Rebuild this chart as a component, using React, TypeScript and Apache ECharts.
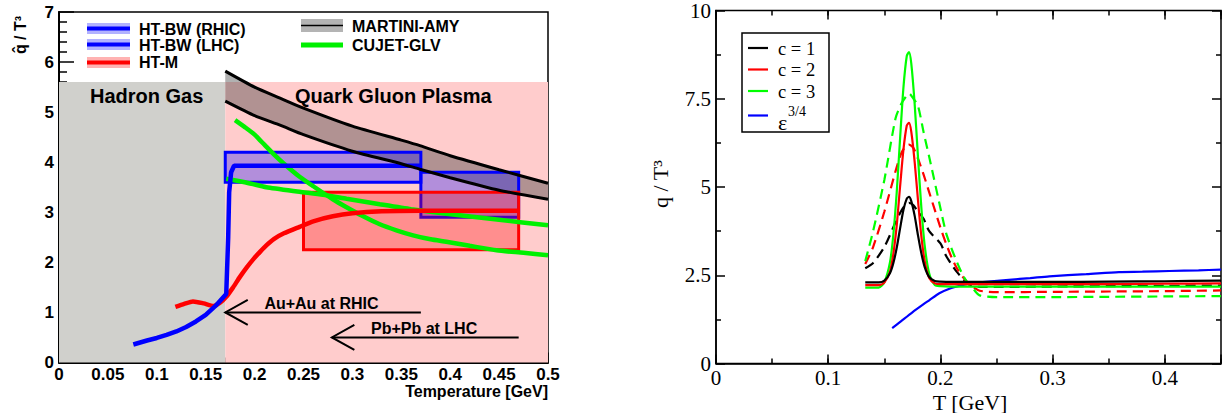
import { useEffect, useRef } from "react";
import * as echarts from "echarts";

// ---------- left panel: q̂/T³ vs temperature ----------
const phaseNames = ["Hadron Gas", "Quark Gluon Plasma"];
const phaseTMin = [0, 0.17];
const phaseTMax = [0.17, 0.5];
const phaseQMax = 5.6;

// extraction boxes: HT-BW (RHIC), HT-BW (LHC), HT-M
const boxTMin = [0.17, 0.37, 0.25];
const boxTMax = [0.37, 0.47, 0.47];
const boxQMin = [3.6, 2.9, 2.25];
const boxQMax = [4.2, 3.8, 3.4];

// MARTINI-AMY band
const martiniT = [0.17, 0.2, 0.226, 0.25, 0.3, 0.35, 0.369, 0.4, 0.45, 0.5];
const martiniUpper = [5.82, 5.5, 5.28, 5.08, 4.72, 4.44, 4.33, 4.13, 3.85, 3.58];
const martiniLower = [5.22, 4.93, 4.74, 4.55, 4.22, 3.97, 3.86, 3.69, 3.44, 3.26];

// HT-BW curve
const htbwT = [0.076, 0.09, 0.1, 0.11, 0.12, 0.13, 0.14, 0.15, 0.16, 0.171, 0.173, 0.174, 0.176, 0.179, 0.37];
const htbwQ = [0.36, 0.44, 0.49, 0.55, 0.62, 0.71, 0.82, 0.95, 1.13, 1.37, 2.5, 3.4, 3.8, 3.93, 3.93];

// HT-M curve
const htmT = [0.119, 0.128, 0.137, 0.148, 0.158, 0.165, 0.171, 0.178, 0.185, 0.192, 0.199, 0.206, 0.212, 0.22, 0.23, 0.246, 0.26, 0.28, 0.3, 0.33, 0.37, 0.42, 0.47];
const htmQ = [1.11, 1.17, 1.22, 1.18, 1.13, 1.2, 1.31, 1.5, 1.71, 1.9, 2.07, 2.22, 2.34, 2.47, 2.58, 2.71, 2.82, 2.92, 2.98, 3.02, 3.03, 3.03, 3.03];

// CUJET-GLV curves
const cujetAT = [0.18, 0.19, 0.2, 0.21, 0.22, 0.23, 0.246, 0.26, 0.28, 0.294, 0.31, 0.328, 0.345, 0.362, 0.38, 0.396, 0.42, 0.4475, 0.475, 0.5];
const cujetAQ = [4.84, 4.7, 4.55, 4.35, 4.15, 3.97, 3.71, 3.52, 3.26, 3.1, 2.93, 2.76, 2.64, 2.54, 2.46, 2.41, 2.33, 2.24, 2.19, 2.14];
const cujetBT = [0.171, 0.19, 0.212, 0.246, 0.27, 0.294, 0.328, 0.36, 0.396, 0.45, 0.5];
const cujetBQ = [3.67, 3.6, 3.5, 3.41, 3.35, 3.27, 3.16, 3.06, 2.97, 2.85, 2.74];

// collision-system arrows
const arrowLabels = ["Au+Au at RHIC", "Pb+Pb at LHC"];
const arrowFrom = [0.37, 0.47];
const arrowTo = [0.17, 0.279];
const arrowQ = [1.0, 0.5];

// ---------- right panel: q/T³ vs T ----------
const solidT = [0.133, 0.145, 0.15, 0.155, 0.158, 0.161, 0.164, 0.167, 0.17, 0.172, 0.174, 0.177, 0.18, 0.183, 0.186, 0.19, 0.195, 0.2, 0.21, 0.25, 0.3, 0.35, 0.4, 0.45];
const c1Solid = [2.3, 2.3, 2.35, 2.56, 2.84, 3.27, 3.82, 4.35, 4.67, 4.72, 4.6, 4.19, 3.63, 3.12, 2.73, 2.45, 2.34, 2.32, 2.31, 2.31, 2.31, 2.32, 2.33, 2.35];
const c2Solid = [2.22, 2.22, 2.29, 2.6, 3.1, 3.9, 5.0, 6.05, 6.74, 6.82, 6.57, 5.72, 4.62, 3.6, 2.89, 2.42, 2.27, 2.25, 2.25, 2.25, 2.25, 2.25, 2.26, 2.27];
const c3Solid = [2.15, 2.15, 2.3, 2.86, 3.64, 4.83, 6.36, 7.81, 8.71, 8.82, 8.5, 7.36, 5.84, 4.41, 3.33, 2.55, 2.22, 2.19, 2.18, 2.18, 2.18, 2.18, 2.18, 2.18];

const dashT = [0.133, 0.14, 0.15, 0.16, 0.165, 0.169, 0.172, 0.176, 0.18, 0.185, 0.19, 0.2, 0.205, 0.21, 0.215, 0.22, 0.225, 0.23, 0.235, 0.25, 0.3, 0.35, 0.4, 0.45];
const c1Dash = [2.7, 2.85, 3.3, 4.0, 4.32, 4.5, 4.55, 4.48, 4.3, 4.1, 3.75, 3.4, 3.05, 2.8, 2.58, 2.4, 2.25, 2.19, 2.17, 2.17, 2.18, 2.19, 2.2, 2.21];
const c2Dash = [2.82, 3.3, 4.3, 5.45, 5.95, 6.15, 6.2, 6.1, 5.8, 5.35, 4.85, 3.85, 3.4, 3.0, 2.68, 2.45, 2.27, 2.15, 2.06, 2.02, 2.03, 2.04, 2.05, 2.07];
const c3Dash = [2.9, 3.75, 5.2, 6.95, 7.35, 7.55, 7.65, 7.5, 7.3, 6.55, 5.85, 4.4, 3.7, 3.25, 2.85, 2.5, 2.25, 2.08, 1.93, 1.88, 1.88, 1.89, 1.9, 1.91];

const epsT = [0.157, 0.165, 0.175, 0.185, 0.19, 0.199, 0.208, 0.218, 0.226, 0.24, 0.261, 0.28, 0.297, 0.33, 0.359, 0.38, 0.404, 0.43, 0.45];
const epsQ = [1.0, 1.2, 1.45, 1.68, 1.79, 1.99, 2.12, 2.21, 2.26, 2.31, 2.37, 2.42, 2.47, 2.53, 2.59, 2.6, 2.62, 2.64, 2.66];

const rightLegend = ["c = 1", "c = 2", "c = 3"];

const SANS = "'Liberation Sans', Arial, Helvetica, sans-serif";
const SERIF = "'Liberation Serif', 'Times New Roman', serif";

const pairs = (xs: number[], ys: number[]) => xs.map((x, i) => [x, ys[i]]);

const phaseFill = ["#d0d0cc", "#ffcccc"];
const boxFill = ["rgba(0,0,255,0.3)", "rgba(0,0,255,0.3)", "rgba(255,0,0,0.3)"];
const boxStroke = ["#0000ff", "#0000ff", "#ff0000"];
const GREEN = "#00f000";

function leftLine(data: number[][], color: string, width: number) {
  return {
    type: "line",
    xAxisIndex: 0,
    yAxisIndex: 0,
    data,
    showSymbol: false,
    symbol: "none",
    smooth: 0.2,
    lineStyle: { color, width },
    silent: true,
  };
}

function rightLine(data: number[][], color: string, dashed: boolean) {
  return {
    type: "line",
    xAxisIndex: 1,
    yAxisIndex: 1,
    data,
    showSymbol: false,
    symbol: "none",
    smooth: 0.25,
    lineStyle: { color, width: 2.2, type: dashed ? [10, 6] : "solid" },
    silent: true,
  };
}

const tickStyle = { color: "#000", width: 1.5 };

function buildOption() {
  const leftLabel = { fontFamily: SANS, fontWeight: "bold", fontSize: 17, color: "#000" };
  const rightLabel = { fontFamily: SERIF, fontSize: 21, color: "#000", lineHeight: 18 };

  const isTenth = (v: number) => Math.abs(v * 10 - Math.round(v * 10)) < 1e-6;

  const xAxis: any[] = [
    {
      type: "value", gridIndex: 0, min: 0, max: 0.5, interval: 0.05,
      axisLine: { show: true, onZero: false, lineStyle: { color: "#000", width: 2 } },
      axisTick: { show: true, inside: true, length: 10, lineStyle: tickStyle },
      minorTick: { show: true, splitNumber: 5, length: 5, lineStyle: tickStyle },
      axisLabel: { ...leftLabel, margin: 3 },
      splitLine: { show: false }, minorSplitLine: { show: false },
    },
    {
      type: "value", gridIndex: 1, min: 0, max: 0.45, interval: 0.05, position: "bottom",
      axisLine: { show: true, onZero: false, lineStyle: { color: "#000", width: 1.5 } },
      axisTick: { show: true, inside: true, length: 5, lineStyle: tickStyle },
      axisLabel: {
        ...rightLabel, margin: 5,
        formatter: (v: number) => (isTenth(v) ? (Math.round(v * 10) === 0 ? "0" : (Math.round(v * 10) / 10).toString()) : ""),
      },
      splitLine: { show: false },
    },
    {
      type: "value", gridIndex: 1, min: 0, max: 0.45, interval: 0.1, position: "bottom",
      axisLine: { show: false, onZero: false },
      axisTick: { show: true, inside: true, length: 9, lineStyle: tickStyle },
      axisLabel: { show: false },
      splitLine: { show: false },
    },
    {
      type: "value", gridIndex: 1, min: 0, max: 0.45, interval: 0.05, position: "top",
      axisLine: { show: false, onZero: false },
      axisTick: { show: true, inside: true, length: 5, lineStyle: tickStyle },
      axisLabel: { show: false },
      splitLine: { show: false },
    },
    {
      type: "value", gridIndex: 1, min: 0, max: 0.45, interval: 0.1, position: "top",
      axisLine: { show: false, onZero: false },
      axisTick: { show: true, inside: true, length: 9, lineStyle: tickStyle },
      axisLabel: { show: false },
      splitLine: { show: false },
    },
  ];

  const yAxis: any[] = [
    {
      type: "value", gridIndex: 0, min: 0, max: 7, interval: 1,
      axisLine: { show: true, onZero: false, lineStyle: { color: "#000", width: 2 } },
      axisTick: { show: true, inside: true, length: 15, lineStyle: tickStyle },
      minorTick: { show: true, splitNumber: 5, length: 8, lineStyle: tickStyle },
      axisLabel: { ...leftLabel, margin: 5 },
      splitLine: { show: false }, minorSplitLine: { show: false },
    },
    {
      type: "value", gridIndex: 1, min: 0, max: 10, interval: 2.5, position: "left",
      axisLine: { show: true, onZero: false, lineStyle: { color: "#000", width: 1.5 } },
      axisTick: { show: true, inside: true, length: 9, lineStyle: tickStyle },
      minorTick: { show: true, splitNumber: 2, length: 5, lineStyle: tickStyle },
      axisLabel: { ...rightLabel, margin: 5 },
      splitLine: { show: false }, minorSplitLine: { show: false },
    },
    {
      type: "value", gridIndex: 1, min: 0, max: 10, interval: 2.5, position: "right",
      axisLine: { show: false, onZero: false },
      axisTick: { show: true, inside: true, length: 9, lineStyle: tickStyle },
      minorTick: { show: true, splitNumber: 2, length: 5, lineStyle: tickStyle },
      axisLabel: { show: false },
      splitLine: { show: false }, minorSplitLine: { show: false },
    },
  ];

  const series: any[] = [
    // hadron gas / QGP backgrounds
    {
      type: "custom", xAxisIndex: 0, yAxisIndex: 0, silent: true,
      data: phaseTMin.map((t, i) => [t, phaseTMax[i], 0, phaseQMax]),
      encode: { x: [0, 1], y: [2, 3] },
      renderItem: (params: any, api: any) => {
        const a = api.coord([api.value(0), api.value(3)]);
        const b = api.coord([api.value(1), api.value(2)]);
        return {
          type: "rect",
          shape: { x: a[0], y: a[1], width: b[0] - a[0], height: b[1] - a[1] },
          style: { fill: phaseFill[params.dataIndex] },
        };
      },
    },
    // MARTINI-AMY band fill
    {
      type: "custom", xAxisIndex: 0, yAxisIndex: 0, silent: true,
      data: martiniT.map((t, i) => [t, martiniLower[i], martiniUpper[i]]),
      encode: { x: 0, y: [1, 2] },
      renderItem: (params: any, api: any) => {
        if (params.dataIndex !== 0) return null;
        const up = martiniT.map((t, i) => api.coord([t, martiniUpper[i]]));
        const lo = martiniT.map((t, i) => api.coord([t, martiniLower[i]])).reverse();
        return { type: "polygon", shape: { points: up.concat(lo) }, style: { fill: "rgba(60,60,60,0.4)" } };
      },
    },
    // extraction boxes
    {
      type: "custom", xAxisIndex: 0, yAxisIndex: 0, silent: true,
      data: boxTMin.map((t, i) => [t, boxTMax[i], boxQMin[i], boxQMax[i]]),
      encode: { x: [0, 1], y: [2, 3] },
      renderItem: (params: any, api: any) => {
        const a = api.coord([api.value(0), api.value(3)]);
        const b = api.coord([api.value(1), api.value(2)]);
        return {
          type: "rect",
          shape: { x: a[0], y: a[1], width: b[0] - a[0], height: b[1] - a[1] },
          style: { fill: boxFill[params.dataIndex], stroke: boxStroke[params.dataIndex], lineWidth: 3 },
        };
      },
    },
    leftLine(pairs(cujetAT, cujetAQ), GREEN, 4.5),
    leftLine(pairs(cujetBT, cujetBQ), GREEN, 4.5),
    leftLine(pairs(htmT, htmQ), "#ff0000", 4.5),
    { ...leftLine(pairs(htbwT, htbwQ), "#0000ff", 4.5), smooth: false },
    leftLine(pairs(martiniT, martiniUpper), "#000", 3),
    leftLine(pairs(martiniT, martiniLower), "#000", 3),
    // arrows with collision-system labels
    {
      type: "custom", xAxisIndex: 0, yAxisIndex: 0, silent: true,
      data: arrowFrom.map((f, i) => [f, arrowTo[i], arrowQ[i]]),
      encode: { x: [0, 1], y: 2 },
      renderItem: (params: any, api: any) => {
        const from = api.value(0), to = api.value(1), q = api.value(2);
        const tail = api.coord([from, q]);
        const tip = api.coord([to, q]);
        const arm1 = api.coord([to + 0.023, q + 0.25]);
        const arm2 = api.coord([to + 0.023, q - 0.25]);
        const lab = api.coord([to + 0.04, q + 0.18]);
        return {
          type: "group",
          children: [
            { type: "line", shape: { x1: tail[0], y1: tail[1], x2: tip[0], y2: tip[1] }, style: { stroke: "#000", lineWidth: 2 } },
            { type: "polyline", shape: { points: [arm1, tip, arm2] }, style: { stroke: "#000", lineWidth: 2, fill: "none" } },
            {
              type: "text",
              style: {
                x: lab[0], y: lab[1], text: arrowLabels[params.dataIndex],
                fontFamily: SANS, fontWeight: "bold", fontSize: 16, fill: "#000",
                align: "left", verticalAlign: "middle",
              },
            },
          ],
        };
      },
    },
    // right panel curves
    rightLine(pairs(dashT, c1Dash), "#000", true),
    rightLine(pairs(dashT, c2Dash), "#ff0000", true),
    rightLine(pairs(dashT, c3Dash), "#00ff00", true),
    rightLine(pairs(epsT, epsQ), "#0000ff", false),
    rightLine(pairs(solidT, c3Solid), "#00ff00", false),
    rightLine(pairs(solidT, c2Solid), "#ff0000", false),
    rightLine(pairs(solidT, c1Solid), "#000", false),
  ];

  const sansText = (text: string, x: number, y: number, size: number, align = "left", extra: any = {}) => ({
    type: "text", x, y, z: 100,
    style: { text, fontFamily: SANS, fontWeight: "bold", fontSize: size, lineHeight: size, fill: "#000", align, verticalAlign: "middle" },
    ...extra,
  });
  const serifText = (text: string, x: number, y: number, size: number, align = "left", extra: any = {}) => ({
    type: "text", x, y, z: 100,
    style: { text, fontFamily: SERIF, fontSize: size, lineHeight: Math.round(size * 0.85), fill: "#000", align, verticalAlign: "middle" },
    ...extra,
  });
  const legLine = (x1: number, x2: number, y: number, color: string, w: number) => ({
    type: "line", z: 100, shape: { x1, y1: y, x2, y2: y }, style: { stroke: color, lineWidth: w },
  });
  const legBox = (x: number, y: number, w: number, h: number, fill: string) => ({
    type: "rect", z: 99, shape: { x, y, width: w, height: h }, style: { fill },
  });

  const graphic: any[] = [
    // left legend
    legBox(87, 23, 43, 11, "rgba(0,0,255,0.3)"),
    legLine(87, 130, 28.5, "#0000ff", 4),
    legBox(87, 39, 43, 11, "rgba(0,0,255,0.3)"),
    legLine(87, 130, 44.5, "#0000ff", 4),
    legBox(87, 57, 43, 11, "rgba(255,0,0,0.3)"),
    legLine(87, 130, 62.5, "#ff0000", 4),
    sansText("HT-BW (RHIC)", 139, 29, 16),
    sansText("HT-BW (LHC)", 139, 45, 16),
    sansText("HT-M", 139, 62.5, 16),
    legBox(301, 19, 42, 13, "#b4b4b4"),
    legLine(301, 343, 25.5, "#000", 1.5),
    legLine(301, 343, 45, GREEN, 5),
    sansText("MARTINI-AMY", 352, 26, 16),
    sansText("CUJET-GLV", 352, 45, 16),
    sansText(phaseNames[0], 90, 96, 20),
    sansText(phaseNames[1], 295, 96, 20),
    sansText("Temperature [GeV]", 548, 391, 16, "right"),
    sansText("q\u0302 / T\u00b3", 20, 35, 16, "center", { rotation: Math.PI / 2 }),
    // right legend
    { type: "rect", z: 99, shape: { x: 742, y: 33, width: 87, height: 99 }, style: { fill: "#fff", stroke: "#000", lineWidth: 1.5 } },
    legLine(748, 768, 48, "#000", 2.2),
    legLine(748, 768, 69.5, "#ff0000", 2.2),
    legLine(748, 768, 91, "#00ff00", 2.2),
    legLine(748, 768, 115.5, "#0000ff", 2.2),
    serifText(rightLegend[0], 778, 48.5, 18.5),
    serifText(rightLegend[1], 778, 70, 18.5),
    serifText(rightLegend[2], 778, 91.5, 18.5),
    serifText("\u03b5", 778, 122, 22),
    serifText("3/4", 788, 111, 14),
    serifText("T [GeV]", 970, 402, 22, "center"),
    serifText("q / T\u00b3", 660, 184, 22, "center", { rotation: Math.PI / 2 }),
  ];

  return {
    animation: false,
    backgroundColor: "#fff",
    grid: [
      { left: 59, top: 12, width: 489, height: 350.5, show: true, borderColor: "#000", borderWidth: 1.5, backgroundColor: "transparent" },
      { left: 716, top: 9.5, width: 506, height: 354, show: true, borderColor: "#000", borderWidth: 1.5, backgroundColor: "transparent" },
    ],
    xAxis,
    yAxis,
    series,
    graphic,
  };
}

export default function App() {
  const ref = useRef<HTMLDivElement>(null);
  useEffect(() => {
    if (!ref.current) return;
    const chart = echarts.init(ref.current, undefined, { renderer: "svg" });
    chart.setOption(buildOption() as any);
    return () => chart.dispose();
  }, []);
  return (
    <div
      ref={ref}
      style={{ position: "fixed", left: 0, top: 0, width: 1224, height: 413, background: "#fff" }}
    />
  );
}
